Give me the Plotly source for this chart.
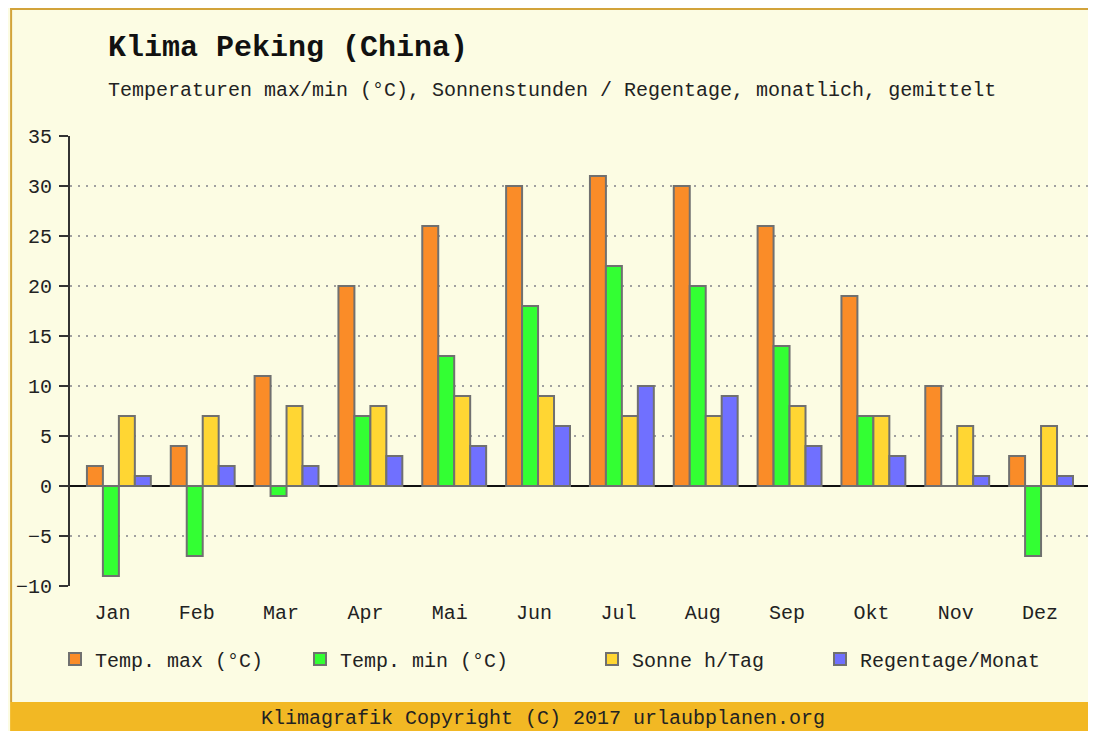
import plotly.graph_objects as go

months = ["Jan", "Feb", "Mar", "Apr", "Mai", "Jun", "Jul", "Aug", "Sep", "Okt", "Nov", "Dez"]
temp_max = [2, 4, 11, 20, 26, 30, 31, 30, 26, 19, 10, 3]
temp_min = [-9, -7, -1, 7, 13, 18, 22, 20, 14, 7, 0, -7]
sonne = [7, 7, 8, 8, 9, 9, 7, 7, 8, 7, 6, 6]
regentage = [1, 2, 2, 3, 4, 6, 10, 9, 4, 3, 1, 1]
y_ticks = [-10, -5, 0, 5, 10, 15, 20, 25, 30, 35]

series = [
    ("Temp. max (°C)", temp_max, "#FA8C28", "legend"),
    ("Temp. min (°C)", temp_min, "#33FF33", "legend2"),
    ("Sonne h/Tag", sonne, "#FFD633", "legend3"),
    ("Regentage/Monat", regentage, "#7070FF", "legend4"),
]

# page body has an 8px margin: work in reference pixels and shift by OFF
OFF = 8
W, H = 1096 - OFF, 731 - OFF
L, R, T, B = 68 - OFF, 1088 - OFF, 136 - OFF, 586 - OFF
FONT = "Liberation Mono, DejaVu Sans Mono, monospace"
BG = "#FCFCE3"


def px(x):  # reference pixel x -> paper
    return (x - OFF - L) / (R - L)


def py(y):  # reference pixel y -> paper
    return (B - (y - OFF)) / (B - T)


xs = list(range(len(months)))
fig = go.Figure()
for name, vals, color, lg in series:
    fig.add_trace(go.Bar(
        x=xs, y=vals, name=name, legend=lg,
        marker=dict(color=color, line=dict(color="#707070", width=2)),
    ))
# carrier for the month-label axis (no visible marks)
fig.add_trace(go.Scatter(x=xs, y=[None] * len(xs), xaxis="x2", yaxis="y",
                         showlegend=False, hoverinfo="skip", mode="markers"))

legend_common = dict(
    orientation="h", xref="container", yref="container",
    yanchor="middle", xanchor="left", bgcolor="rgba(0,0,0,0)",
    font=dict(family=FONT, size=20, color="#222222"),
)
sym_centers = [75, 320, 612, 840]
legend_y = 1 - (659 - OFF) / H
legends = {}
for i, key in enumerate(["legend", "legend2", "legend3", "legend4"]):
    d = dict(legend_common)
    d["x"] = (sym_centers[i] - OFF - 20) / W
    d["y"] = legend_y
    legends[key] = d

fig.update_layout(
    width=W, height=H,
    margin=dict(l=L, r=W - R, t=T, b=H - B),
    paper_bgcolor=BG, plot_bgcolor=BG,
    barmode="group", bargap=0.238, bargroupgap=0,
    font=dict(family=FONT, size=20, color="#222222"),
    showlegend=True,
    xaxis2=dict(
        overlaying="x", anchor="y", side="bottom",
        range=[-0.503, 11.568], tickmode="array", tickvals=xs, ticktext=months,
        showgrid=False, showline=False, ticks="", zeroline=False,
        ticklabelstandoff=12,
        tickfont=dict(family=FONT, size=20, color="#222222"),
    ),
    **legends,
)

fig.update_xaxes(
    selector=dict(anchor="y", overlaying=None),
)
fig.layout.xaxis.update(
    range=[-0.583, 11.56], tickmode="array", tickvals=xs, ticktext=months,
    showticklabels=False, showgrid=False, showline=False, ticks="", zeroline=False,
)
fig.update_yaxes(
    range=[-10, 35], tickmode="array", tickvals=y_ticks,
    showgrid=True, gridcolor="#A0A0A0", griddash="2px,6px", gridwidth=1.5,
    zeroline=True, zerolinecolor="#111111", zerolinewidth=2,
    showline=True, linecolor="#333333", linewidth=2,
    ticks="outside", ticklen=9, tickwidth=2, tickcolor="#333333",
    ticklabelstandoff=3,
    tickfont=dict(family=FONT, size=20, color="#222222"),
)

shapes = [
    dict(type="rect", xref="paper", yref="paper", x0=px(OFF), x1=px(1096), y0=py(702), y1=py(731),
         fillcolor="#F2B824", line=dict(width=0), layer="below"),
    dict(type="line", xref="paper", yref="paper", x0=px(OFF), x1=px(1096), y0=py(OFF + 1), y1=py(OFF + 1),
         line=dict(color="#D2A33A", width=2)),
    dict(type="line", xref="paper", yref="paper", x0=px(OFF + 1), x1=px(OFF + 1), y0=py(OFF), y1=py(702),
         line=dict(color="#D2A33A", width=2)),
]
fig.update_layout(shapes=shapes)

fig.add_annotation(text="<b>Klima Peking (China)</b>", xref="paper", yref="paper",
                   x=px(104), y=py(48), xanchor="left", yanchor="middle", showarrow=False,
                   font=dict(family=FONT, size=30, color="#111111"))
fig.add_annotation(text="Temperaturen max/min (°C), Sonnenstunden / Regentage, monatlich, gemittelt",
                   xref="paper", yref="paper", x=px(104), y=py(91), xanchor="left", yanchor="middle",
                   showarrow=False, font=dict(family=FONT, size=20, color="#222222"))
fig.add_annotation(text="Klimagrafik Copyright (C) 2017 urlaubplanen.org",
                   xref="paper", yref="paper", x=px(542), y=py(718), xanchor="center", yanchor="middle",
                   showarrow=False, font=dict(family=FONT, size=20, color="#222222"))

fig.write_html("out.html")
